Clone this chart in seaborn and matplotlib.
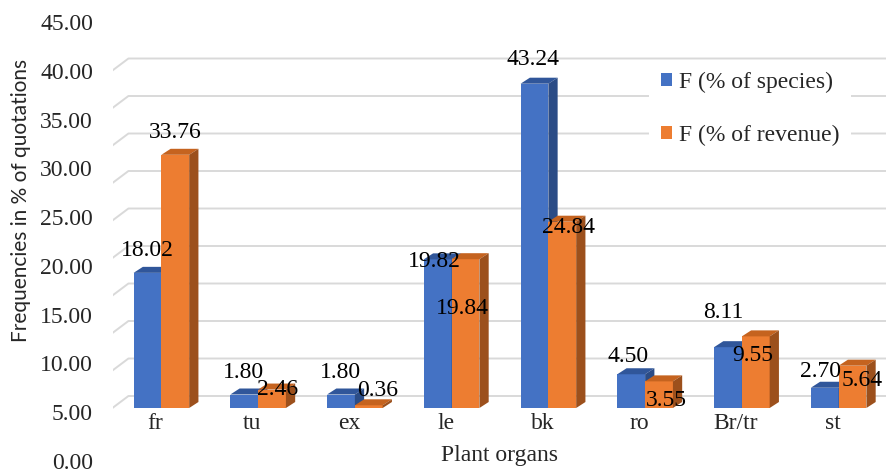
import pandas as pd
import seaborn as sns
import matplotlib.pyplot as plt
from matplotlib.patches import Polygon, Patch
from matplotlib.transforms import ScaledTranslation

# ---- data -------------------------------------------------------------
organs = ["fr", "tu", "ex", "le", "bk", "ro", "Br/tr", "st"]
pct_species = [18.02, 1.80, 1.80, 19.82, 43.24, 4.50, 8.11, 2.70]
pct_revenue = [33.76, 2.46, 0.36, 19.84, 24.84, 3.55, 9.55, 5.64]
series_names = ["F (% of species)", "F (% of revenue)"]
y_ticks = [0, 5, 10, 15, 20, 25, 30, 35, 40, 45]

# ---- style ------------------------------------------------------------
BLUE, ORANGE = "#4472C4", "#ED7D31"
TOP = {BLUE: "#30569A", ORANGE: "#C5631F"}
SIDE = {BLUE: "#2B4C86", ORANGE: "#9C501C"}
GRID = "#D9D9D9"
SERIF = ["Liberation Serif", "DejaVu Serif"]
FS = 17

# label nudges in pixels (dx, dy up from the bar's front top edge)
nudge_species = [(0, 22), (-1, 22), (0, 22), (-3, -2), (-1, 24), (-3, 18), (-5, 35), (-4, 16)]
nudge_revenue = [(0, 22), (6, 0), (9, 15), (-3, -49), (6, -6), (7, -19), (-3, -19), (10, -15)]

W, H, DPI = 887, 469, 100
sns.set_theme(style="white")
plt.rcParams["font.family"] = SERIF

fig = plt.figure(figsize=(W / DPI, H / DPI), dpi=DPI)

# main plotting area (pixel geometry -> figure fractions)
left_px, right_px, bottom_px = 113, 887, 413
ax = fig.add_axes([left_px / W, 1 - bottom_px / H, (right_px - left_px) / W, bottom_px / H])
px_per_cat = 94.0
px_per_unit = 7.5
floor_px = 408
x0 = (left_px - 167) / px_per_cat
x1 = x0 + (right_px - left_px) / px_per_cat
ax.set_xlim(x0, x1)
ax.set_ylim(-(bottom_px - floor_px) / px_per_unit, floor_px / px_per_unit)

df = pd.DataFrame({
    "organ": organs * 2,
    "series": [series_names[0]] * len(organs) + [series_names[1]] * len(organs),
    "value": pct_species + pct_revenue,
})

sns.barplot(data=df, x="organ", y="value", hue="series", hue_order=series_names,
            palette=[BLUE, ORANGE], width=27 * 2 / px_per_cat, gap=0, saturation=1,
            errorbar=None, legend=False, linewidth=0, ax=ax)

# depth of the 3-D extrusion in data units
ddx = 9 / px_per_cat
ddy = 6 / px_per_unit

# back-wall gridlines with the slanted side-wall segment
back_x = x0 + 22 / px_per_cat
front_off = -5 / px_per_unit
back_off = 12 / px_per_unit
for v in y_ticks:
    ax.plot([x0, back_x, x1], [v + front_off, v + back_off, v + back_off],
            color=GRID, lw=1.4, zorder=0.5, solid_capstyle="butt")

n = len(organs)
bars = list(ax.patches)
for i, bar in enumerate(bars):
    hue_idx = i // n
    color = BLUE if hue_idx == 0 else ORANGE
    bx, bw, bh = bar.get_x(), bar.get_width(), bar.get_height()
    base = 2 + 3 * hue_idx
    bar.set_zorder(base)
    top = Polygon([(bx, bh), (bx + bw, bh), (bx + bw + ddx, bh + ddy), (bx + ddx, bh + ddy)],
                  closed=True, facecolor=TOP[color], edgecolor="none", zorder=base + 1)
    side = Polygon([(bx + bw, 0), (bx + bw, bh), (bx + bw + ddx, bh + ddy), (bx + bw + ddx, ddy)],
                   closed=True, facecolor=SIDE[color], edgecolor="none", zorder=base + 2)
    ax.add_patch(top)
    ax.add_patch(side)

    vals = pct_species if hue_idx == 0 else pct_revenue
    nudges = nudge_species if hue_idx == 0 else nudge_revenue
    j = i % n
    dx, dy = nudges[j]
    ax.annotate(f"{vals[j]:.2f}", xy=(bx + bw / 2, bh), xytext=(dx * 0.72, dy * 0.72),
                textcoords="offset points", ha="center", va="center",
                fontsize=FS, color="black", zorder=20)

for s in ax.spines.values():
    s.set_visible(False)
ax.set_yticks([])
ax.tick_params(axis="x", length=0, pad=0, labelsize=FS)
for lab in ax.get_xticklabels():
    lab.set_transform(lab.get_transform() + ScaledTranslation(-6 / DPI, 0, fig.dpi_scale_trans))
ax.set_ylabel("")
ax.set_xlabel("Plant organs", fontsize=FS, labelpad=8)
ax.patch.set_alpha(0)

# value-axis labels on the front edge of the side wall
lab_zero_px, lab_top_px = 461, 22
lab_ppu = (lab_zero_px - lab_top_px) / 45
axl = fig.add_axes([left_px / W, 0, 0.001, 1])
axl.set_ylim(-(H - lab_zero_px) / lab_ppu, lab_zero_px / lab_ppu)
axl.set_yticks(y_ticks)
axl.set_yticklabels([f"{v:.2f}" for v in y_ticks])
axl.tick_params(axis="y", length=0, pad=14.4, labelsize=FS)
axl.set_xticks([])
for s in axl.spines.values():
    s.set_visible(False)
axl.patch.set_alpha(0)

fig.text(21 / W, 1 - 200 / H, "Frequencies in % of quotations", rotation=90,
         ha="center", va="center", fontsize=15, family=["Lato", "DejaVu Sans"])

handles = [Patch(facecolor=BLUE, edgecolor="none"), Patch(facecolor=ORANGE, edgecolor="none")]
leg = fig.legend(handles, series_names, loc="center left",
                 bbox_to_anchor=(637 / W, 1 - 109 / H), bbox_transform=fig.transFigure,
                 fontsize=FS, frameon=True, facecolor="white", edgecolor="none", framealpha=1,
                 fancybox=False, handlelength=0.47, handleheight=0.47, handletextpad=0.3,
                 labelspacing=1.35, borderpad=0.5)
leg.set_zorder(30)

fig.savefig("out.png", dpi=DPI)
